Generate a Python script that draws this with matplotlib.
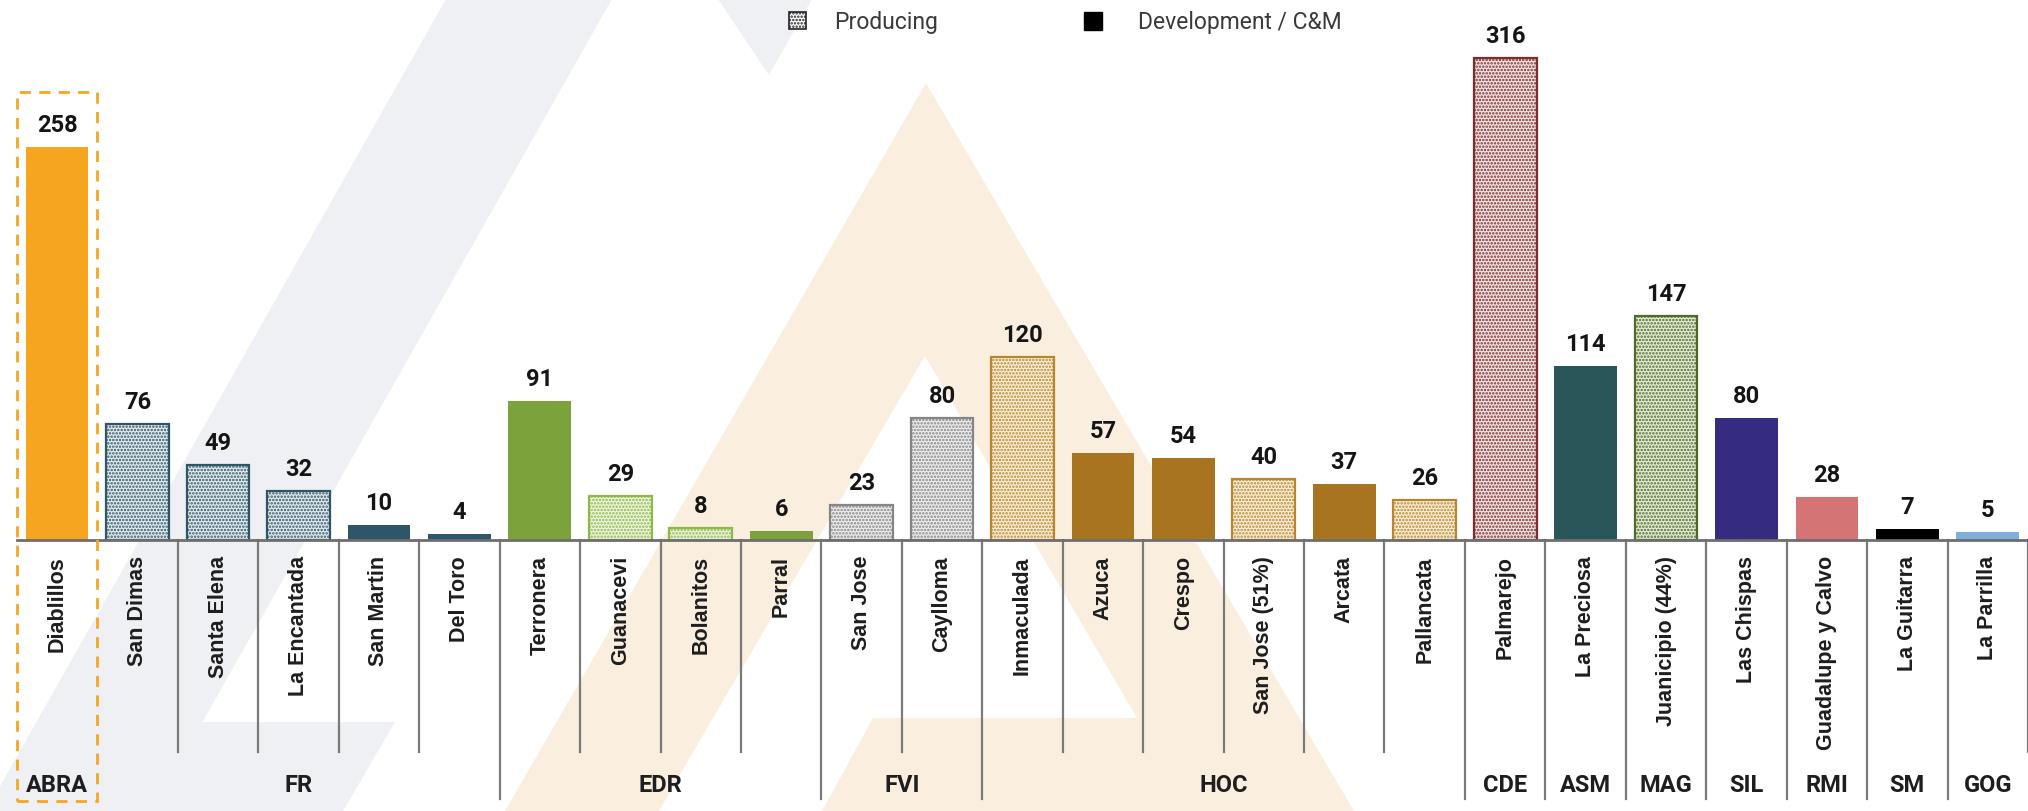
import numpy as np
import matplotlib
matplotlib.use("Agg")
import matplotlib.pyplot as plt
from matplotlib.patches import Polygon, Rectangle
import matplotlib.transforms as mtransforms

plt.rcParams['font.family'] = ['Roboto', 'DejaVu Sans']
plt.rcParams['hatch.linewidth'] = 1.2

# ---- data ----
mines = ["Diablillos", "San Dimas", "Santa Elena", "La Encantada", "San Martin", "Del Toro",
         "Terronera", "Guanacevi", "Bolanitos", "Parral", "San Jose", "Caylloma",
         "Inmaculada", "Azuca", "Crespo", "San Jose (51%)", "Arcata", "Pallancata",
         "Palmarejo", "La Preciosa", "Juanicipio (44%)", "Las Chispas", "Guadalupe y Calvo",
         "La Guitarra", "La Parrilla"]
values = [258, 76, 49, 32, 10, 4, 91, 29, 8, 6, 23, 80, 120, 57, 54, 40, 37, 26,
          316, 114, 147, 80, 28, 7, 5]
producing = [False, True, True, True, False, False, False, True, True, False, True, True,
             True, False, False, True, False, True, True, False, True, False, False,
             False, False]
fill_colors = ["#F5A51F", "#E3EBEF", "#E3EBEF", "#E3EBEF", "#2E5568", "#2E5568",
               "#7CA33B", "#EEF5DF", "#EEF5DF", "#7CA33B", "#EDEDED", "#EDEDED",
               "#FBEFD8", "#A8741F", "#A8741F", "#FBEFD8", "#A8741F", "#FBEFD8",
               "#F3E3E3", "#285659", "#E5ECD6", "#352B80", "#D47474", "#000000", "#7EAEDB"]
edge_colors = ["#F5A51F", "#2F5666", "#2F5666", "#2F5666", "#2E5568", "#2E5568",
               "#7CA33B", "#8DB84A", "#8DB84A", "#7CA33B", "#858585", "#858585",
               "#B8862E", "#A8741F", "#A8741F", "#B8862E", "#A8741F", "#B8862E",
               "#7A2E2E", "#285659", "#4E6B2A", "#352B80", "#D47474", "#000000", "#7EAEDB"]

groups = ["ABRA", "FR", "EDR", "FVI", "HOC", "CDE", "ASM", "MAG", "SIL", "RMI", "SM", "GOG"]
group_start = [0, 1, 6, 10, 12, 18, 19, 20, 21, 22, 23, 24]
group_end = [0, 5, 9, 11, 17, 18, 19, 20, 21, 22, 23, 24]

W, H = 2028, 812
fig = plt.figure(figsize=(W / 100, H / 100), dpi=100)

# background watermark (pixel coords)
bg = fig.add_axes([0, 0, 1, 1], zorder=0)
bg.set_xlim(0, W)
bg.set_ylim(H, 0)
bg.axis("off")
gray = "#EFF0F3"
beige = "#FAEFDF"
bg.add_patch(Polygon([(446, 0), (612, 0), (152, 812), (-14, 812)], color=gray, lw=0))
bg.add_patch(Polygon([(190, 723), (395, 723), (343, 812), (150, 812)], color=gray, lw=0))
bg.add_patch(Polygon([(718, 0), (812, 0), (769, 76)], color=gray, lw=0))
bg.add_patch(Polygon([(926, 84), (1354, 812), (505, 812)], color=beige, lw=0))
bg.add_patch(Polygon([(925, 357), (1137, 719), (873, 719), (822, 812), (659, 812), (713, 719)],
                     color="white", lw=0))

# legend
bg.add_patch(Rectangle((789, 13), 17, 17, facecolor="white", edgecolor="#222222",
                       hatch=".....", lw=1.2))
bg.text(834, 22, "Producing", fontsize=16.5, color="#3A3A3A", va="center", ha="left")
bg.add_patch(Rectangle((1084, 13), 18, 18, facecolor="black", edgecolor="black", lw=1))
bg.text(1138, 22, "Development / C&M", fontsize=16.5, color="#3A3A3A", va="center", ha="left")

# main chart
base_px = 541
ax = fig.add_axes([17 / W, (H - base_px) / H, (W - 17) / W, base_px / H], zorder=1)
ax.patch.set_alpha(0)
x = np.arange(len(mines))
ax.set_xlim(-0.5, len(mines) - 0.5)
ax.set_ylim(0, base_px / 1.524)
for s in ax.spines.values():
    s.set_visible(False)
ax.set_xticks([])
ax.set_yticks([])

for i in range(len(mines)):
    w = 0.77 if i == 0 else 0.78
    ax.bar(x[i], values[i], width=w, color=fill_colors[i], edgecolor=edge_colors[i],
           linewidth=1.6 if producing[i] else 0,
           hatch="....." if producing[i] else None, zorder=2)
    ax.annotate(str(values[i]), (x[i], values[i]), xytext=(0, 11), textcoords="offset pixels",
                ha="center", va="bottom", fontsize=17, fontweight="bold", color="#151515")

trans = mtransforms.blended_transform_factory(ax.transData, ax.transAxes)
ax.plot([-0.5, len(mines) - 0.5], [0, 0], color="#6E6E6E", lw=2, transform=trans,
        clip_on=False, zorder=3)

def frac(px):
    return (base_px - px) / base_px

# category labels
for i, name in enumerate(mines):
    ax.text(x[i], frac(556), name, rotation=90, ha="center", va="top", fontsize=15.5,
            fontweight="bold", family=["Liberation Sans", "DejaVu Sans"], color="#1E1E1E",
            transform=trans)

# separators
long_after = set(group_end)
for i in range(2, len(mines) + 1):
    is_long = (i - 1) in long_after and i < len(mines)
    end = frac(800) if is_long else frac(753)
    ax.plot([i - 0.5, i - 0.5], [0, end], color="#7A7A7A", lw=1.6, transform=trans,
            clip_on=False, zorder=1)

# group labels
for g, a, b in zip(groups, group_start, group_end):
    ax.text((a + b) / 2, frac(785), g, ha="center", va="center", fontsize=17,
            fontweight="bold", color="#1E1E1E", transform=trans)

# dashed highlight box around the first mine
ax.add_patch(Rectangle((-0.5, frac(802)), 1.0, frac(93) - frac(802), transform=trans,
                       fill=False, edgecolor="#F5A623", lw=2, ls=(0, (4, 3)), clip_on=False,
                       zorder=4))

fig.savefig("out.png", dpi=100, facecolor="white")
